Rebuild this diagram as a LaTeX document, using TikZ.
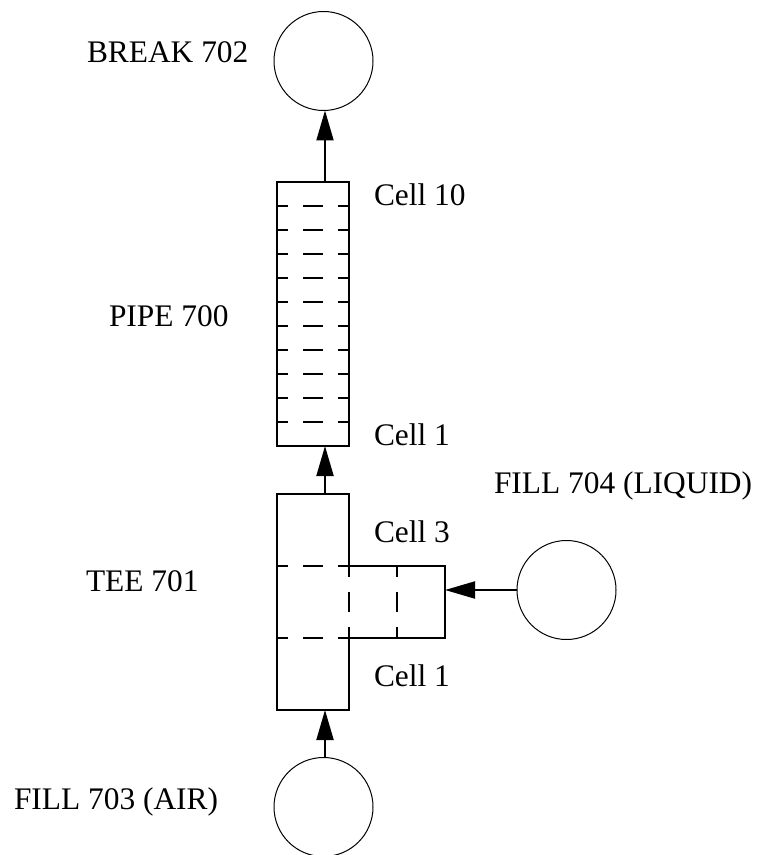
\documentclass[tikz,border=0pt]{standalone}
\usepackage{fontspec}
\setmainfont{Liberation Serif}
\usepackage{xcolor}
\usetikzlibrary{arrows.meta, positioning}

\begin{document}
\begin{tikzpicture}[
        x=0.5pt, y=-0.5pt,
        every node/.style={font=\fontsize{15.7}{18}\selectfont, inner sep=0pt, outer sep=0pt},
        lbl/.style={anchor=base west},
        wall/.style={minimum width=36pt},
        vessel/.style={circle, draw, line width=0.5pt, minimum size=49.5pt},
        solid wall/.style={line width=1pt},
        cellline/.style={line width=1pt, dash pattern=on 10pt off 7.5pt, dash phase=4.5pt},
        arr/.style={-{Triangle[length=15pt, width=8.5pt]}, line width=1pt}
    ]
        \useasboundingbox (0,0) rectangle (758,855);

        \node[wall, draw, line width=1pt, minimum height=132pt] (pipe) at (313,314) {};
        \node[wall, minimum height=108pt, below=24pt of pipe] (tee) {};
        \node[minimum width=48pt, minimum height=36pt, right=0pt of tee] (branch) {};
        \node[vessel] (brk) at (323.5,61) {};
        \node[vessel] (fillair) at (323.5,807) {};
        \node[vessel, right=36pt of branch, yshift=6pt] (fillliq) {};

        % cells
        \foreach \i in {1,...,10}
            \draw[cellline] ([yshift=-12pt*\i]pipe.north west) -- ([yshift=-12pt*\i]pipe.north east);
        \draw[solid wall] (branch.north west) -- (tee.north east) -- (tee.north west) -- (tee.south west)
            -- (tee.south east) -- (branch.south west) -- (branch.south east) -- (branch.north east) -- cycle;
        \draw[cellline] (tee.west |- branch.north) -- (branch.north west);
        \draw[cellline] (tee.west |- branch.south) -- (branch.south west);
        \draw[cellline] (branch.north west) -- (branch.south west);
        \draw[cellline] (branch.north) -- (branch.south);

        % flow
        \draw[arr] ([xshift=6pt]pipe.north) -- ([xshift=0.75pt]brk.south);
        \draw[arr] ([xshift=6pt]tee.north) -- ([xshift=6pt]pipe.south);
        \draw[arr] ([xshift=0.75pt]fillair.north) -- ([xshift=6pt]tee.south);
        \draw[arr] (fillliq.west) -- (branch.east |- fillliq.west);

        \node[lbl] (brklabel) at (87,63) {BREAK 702};
        \node[lbl] (celltop) at (374,206) {Cell 10};
        \node[lbl] (pipelabel) at (109,326) {PIPE 700};
        \node[lbl] (cellpipe) at (374,445) {Cell 1};
        \node[lbl] (liqlabel) at (494,493) {FILL 704 (LIQUID)};
        \node[lbl] (cellthree) at (374,542) {Cell 3};
        \node[lbl] (teelabel) at (86,591) {TEE 701};
        \node[lbl] (cellone) at (374,686) {Cell 1};
        \node[lbl] (airlabel) at (14,809) {FILL 703 (AIR)};
    \end{tikzpicture}
\end{document}
